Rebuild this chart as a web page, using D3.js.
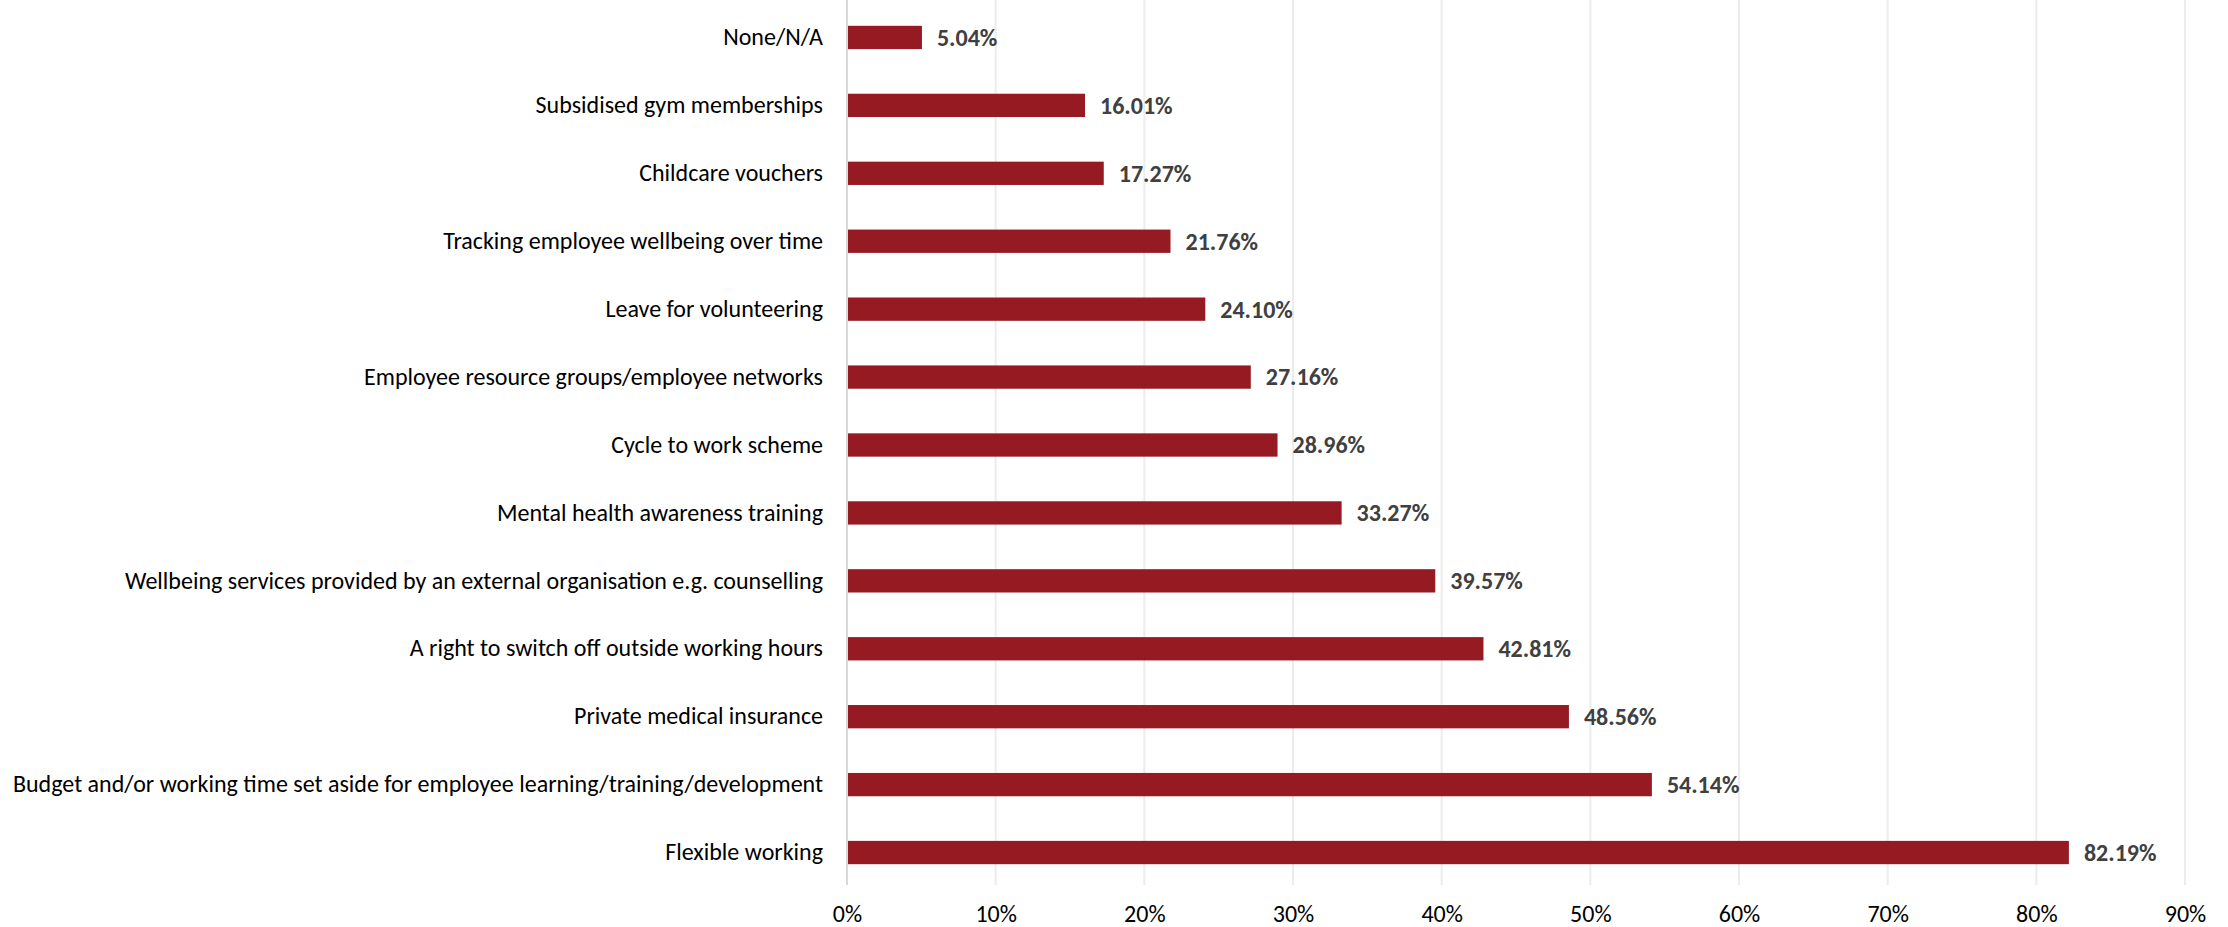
<!DOCTYPE html>
<html><head><meta charset="utf-8">
<script src="https://cdn.jsdelivr.net/npm/d3@7"></script>
<style>html,body{margin:0;padding:0;background:#fff;}</style>
</head><body>
<svg id="chart" width="2228" height="927"></svg>
<script>
const categories = [
  "None/N/A",
  "Subsidised gym memberships",
  "Childcare vouchers",
  "Tracking employee wellbeing over time",
  "Leave for volunteering",
  "Employee resource groups/employee networks",
  "Cycle to work scheme",
  "Mental health awareness training",
  "Wellbeing services provided by an external organisation e.g. counselling",
  "A right to switch off outside working hours",
  "Private medical insurance",
  "Budget and/or working time set aside for employee learning/training/development",
  "Flexible working"
];
const values = [5.04, 16.01, 17.27, 21.76, 24.10, 27.16, 28.96, 33.27, 39.57, 42.81, 48.56, 54.14, 82.19];
const tickValues = [0, 10, 20, 30, 40, 50, 60, 70, 80, 90];

(function () {
const font = "Carlito, 'Liberation Sans Narrow', 'Arial Narrow', 'Liberation Sans', sans-serif";
const svg = d3.select("#chart");
const pLeft = 847, pRight = 2185, pTop = 3.5, pBottom = 886.5;

const x = d3.scaleLinear().domain([0, 90]).range([pLeft, pRight]);
const y = d3.scaleBand().domain(categories).range([pTop, pBottom]).paddingInner(0.657).paddingOuter(0.3285);

svg.append("g").selectAll("line").data(tickValues.filter(d => d > 0)).join("line")
  .attr("x1", d => x(d)).attr("x2", d => x(d))
  .attr("y1", 0).attr("y2", 885)
  .attr("stroke", "#ececec").attr("stroke-width", 2);

svg.append("g").selectAll("rect").data(values).join("rect")
  .attr("x", x(0))
  .attr("y", (d, i) => y(categories[i]))
  .attr("width", d => x(d) - x(0))
  .attr("height", y.bandwidth())
  .attr("fill", "#951a22");

svg.append("line").attr("x1", x(0)).attr("x2", x(0)).attr("y1", 0).attr("y2", 885)
  .attr("stroke", "#d9d9d9").attr("stroke-width", 2);

const yAxis = d3.axisLeft(y).tickSize(0).tickPadding(24);
const gy = svg.append("g").attr("transform", `translate(${x(0)},0)`).call(yAxis);
gy.select(".domain").remove();
gy.selectAll("text").attr("font-family", font).attr("font-size", 24).attr("fill", "#000");

const xAxis = d3.axisBottom(x).tickValues(tickValues).tickSize(0).tickPadding(0).tickFormat(d => d + "%");
const gx = svg.append("g").attr("transform", `translate(0,905)`).call(xAxis);
gx.select(".domain").remove();
gx.selectAll("text").attr("font-family", font).attr("font-size", 24).attr("fill", "#000");

svg.append("g").selectAll("text").data(values).join("text")
  .attr("x", d => x(d) + 15)
  .attr("y", (d, i) => y(categories[i]) + y.bandwidth() / 2)
  .attr("dy", "0.35em")
  .attr("font-family", font).attr("font-size", 24).attr("font-weight", "bold")
  .attr("fill", "#404040")
  .text(d => d.toFixed(2) + "%");
})();
</script>
</body></html>
